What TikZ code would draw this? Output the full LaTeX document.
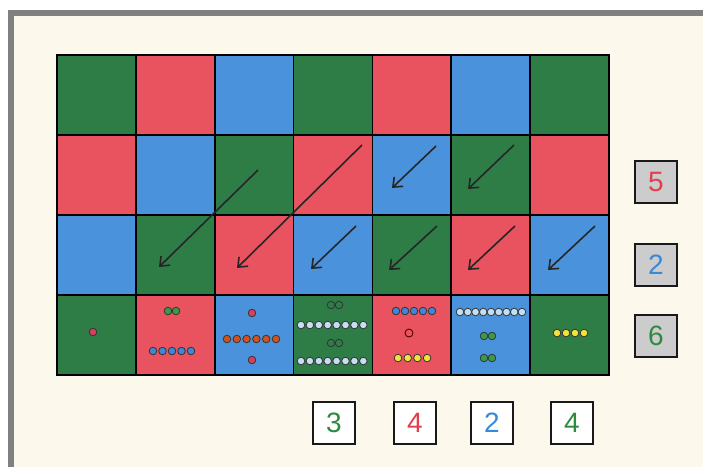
\documentclass[tikz,border=0pt]{standalone}
\usepackage{fontspec}
\setmainfont{Liberation Sans}
\usetikzlibrary{arrows.meta}
\definecolor{cg}{HTML}{2E7D47}
\definecolor{cr}{HTML}{E9535F}
\definecolor{cb}{HTML}{4A93DC}
\definecolor{cream}{HTML}{FDF8EC}
\definecolor{frame}{HTML}{808080}
\definecolor{dpink}{HTML}{D8405A}
\definecolor{dgreen}{HTML}{3A9A48}
\definecolor{dblue}{HTML}{3F86D8}
\definecolor{dorange}{HTML}{D2521E}
\definecolor{dlight}{HTML}{C4DEF2}
\definecolor{dyellow}{HTML}{F2E23A}
\definecolor{nred}{HTML}{E23E4E}
\definecolor{nblue}{HTML}{3A88D8}
\definecolor{ngreen}{HTML}{2E8A3E}
\newcommand\dotrow[5]{%
  \foreach \k in {1,...,#2} \filldraw[dotst, fill=#1] ({#3+(\k-1)*#4},#5) circle[radius=3.8pt];}
\begin{document}
\begin{tikzpicture}[x=1pt,y=-1pt,
  cell/.style={draw=black, line width=1.8pt, minimum width=78.857pt, minimum height=80pt, inner sep=0pt, outer sep=0pt},
  arr/.style={draw=black!85, line width=1.6pt, -{Straight Barb[length=8pt,width=13pt]}},
  dotst/.style={draw=black!80, line width=0.8pt},
  numbox/.style={draw=black!90, line width=2pt, minimum size=42pt, inner sep=0pt, font=\fontsize{28}{28}\selectfont},
  grayb/.style={numbox, fill=gray!40},
  whiteb/.style={numbox, fill=white}]
\useasboundingbox (0,0) rectangle (703,467);
\fill[white] (0,0) rectangle (703,467);
\fill[frame] (8,10) rectangle (703,467);
\fill[cream] (14,16) rectangle (703,467);
% grid
\foreach \c [count=\j] in {cg,cr,cb,cg,cr,cb,cg}
  \node[cell,fill=\c] (c1\j) at ({57+78.857*(\j-0.5)},95) {};
\foreach \c [count=\j] in {cr,cb,cg,cr,cb,cg,cr}
  \node[cell,fill=\c] (c2\j) at ({57+78.857*(\j-0.5)},175) {};
\foreach \c [count=\j] in {cb,cg,cr,cb,cg,cr,cb}
  \node[cell,fill=\c] (c3\j) at ({57+78.857*(\j-0.5)},255) {};
\foreach \c [count=\j] in {cg,cr,cb,cg,cr,cb,cg}
  \node[cell,fill=\c] (c4\j) at ({57+78.857*(\j-0.5)},335) {};
\draw[line width=1.8pt] (57,55) rectangle (609,375);
% arrows
\coordinate (a1s) at (258,170); \coordinate (a1e) at (159,267);
\coordinate (a2s) at (362,145); \coordinate (a2e) at (237,268);
\coordinate (a3s) at (356,226); \coordinate (a3e) at (311,269);
\coordinate (a4s) at (436,146); \coordinate (a4e) at (392,188);
\coordinate (a5s) at (514,145); \coordinate (a5e) at (468,189);
\coordinate (a6s) at (437,226); \coordinate (a6e) at (389,270);
\coordinate (a7s) at (515,226); \coordinate (a7e) at (468,270);
\coordinate (a8s) at (595,226); \coordinate (a8e) at (548,270);
\foreach \n in {1,...,8} \draw[arr] (a\n s) -- (a\n e);
% dots, bottom row
\dotrow{dpink}{1}{93}{0}{332}
\dotrow{dgreen}{2}{168}{8}{311}
\dotrow{dblue}{5}{153}{9.5}{351}
\dotrow{dpink}{1}{252}{0}{313}
\dotrow{dorange}{6}{227}{9.8}{339}
\dotrow{dpink}{1}{252}{0}{360}
\dotrow{cg}{2}{331}{8}{305}
\dotrow{dlight}{8}{301}{8.9}{325}
\dotrow{cg}{2}{331}{8}{343}
\dotrow{dlight}{8}{301}{8.9}{361}
\dotrow{dblue}{5}{396}{9}{311}
\filldraw[draw=black!70!red, line width=0.9pt, fill=cr] (409,333) circle[radius=4pt];
\dotrow{dyellow}{4}{398}{9.7}{358}
\dotrow{dlight}{9}{460}{7.75}{312}
\dotrow{dgreen}{2}{484}{8}{336}
\dotrow{dgreen}{2}{484}{8}{358}
\dotrow{dyellow}{4}{557}{9}{333}
% number boxes
\node[grayb, text=nred] (r5) at (656,182) {5};
\node[grayb, text=nblue] (r2) at (656,265) {2};
\node[grayb, text=ngreen] (r6) at (656,336) {6};
\node[whiteb, text=ngreen] (b3) at (334,423) {3};
\node[whiteb, text=nred] (b4) at (415,423) {4};
\node[whiteb, text=nblue] (b2) at (492,423) {2};
\node[whiteb, text=ngreen] (b4b) at (572,423) {4};
\end{tikzpicture}
\end{document}
